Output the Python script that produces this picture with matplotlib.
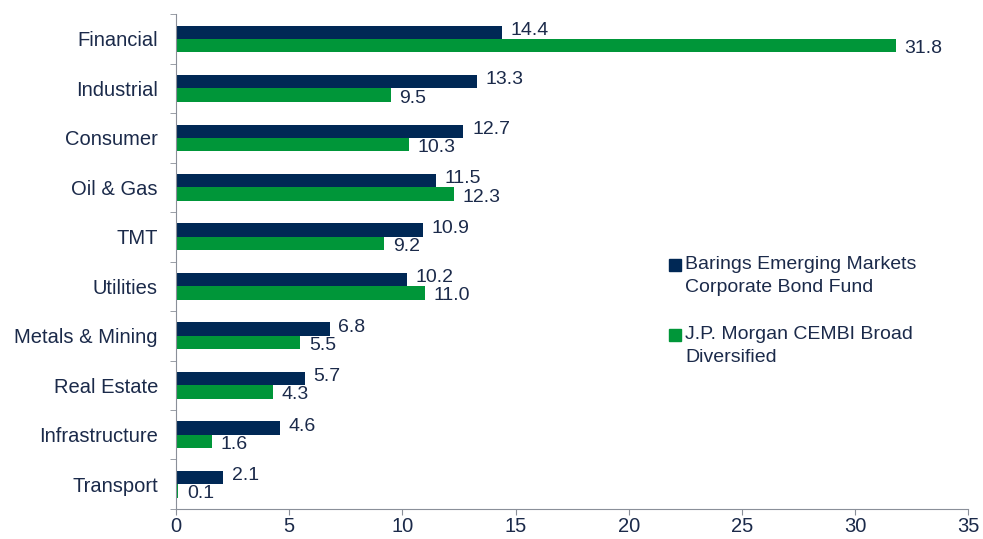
import matplotlib.pyplot as plt
from matplotlib.patches import Rectangle
import numpy as np

plt.rcParams['font.family'] = ['Liberation Sans', 'DejaVu Sans']

sectors = ['Financial', 'Industrial', 'Consumer', 'Oil & Gas', 'TMT', 'Utilities',
           'Metals & Mining', 'Real Estate', 'Infrastructure', 'Transport']
barings = [14.4, 13.3, 12.7, 11.5, 10.9, 10.2, 6.8, 5.7, 4.6, 2.1]
jpm = [31.8, 9.5, 10.3, 12.3, 9.2, 11.0, 5.5, 4.3, 1.6, 0.1]
series_names = [['Barings Emerging Markets', 'Corporate Bond Fund'],
                ['J.P. Morgan CEMBI Broad', 'Diversified']]

navy = '#002855'
green = '#009639'
text_col = '#1b2a4a'
axis_col = '#8a8f99'

fig = plt.figure(figsize=(9.83, 5.39), dpi=100)
ax = fig.add_axes([0.179, 0.0557, 0.806, 0.918])

y = np.arange(len(sectors))
h = 0.27
ax.barh(y - h / 2, barings, height=h, color=navy)
ax.barh(y + h / 2, jpm, height=h, color=green)

# value labels: navy ones sit a bit high, green ones a bit low
for i in range(len(sectors)):
    ax.text(barings[i] + 0.38, y[i] - h / 2 - 0.04, f'{barings[i]:.1f}', va='center', ha='left',
            fontsize=14, color=text_col)
    ax.text(jpm[i] + 0.38, y[i] + h / 2 + 0.06, f'{jpm[i]:.1f}', va='center', ha='left',
            fontsize=14, color=text_col)

ax.set_ylim(len(sectors) - 0.5, -0.5)
ax.set_xlim(0, 35)
ax.set_xticks(range(0, 36, 5))
ax.set_yticks(y)
ax.set_yticklabels(sectors)
ax.set_yticks(np.arange(-0.5, len(sectors), 1), minor=True)
ax.tick_params(axis='y', which='major', length=0, pad=13, labelsize=14.5, labelcolor=text_col)
ax.tick_params(axis='y', which='minor', length=4, color=axis_col, direction='out')
ax.tick_params(axis='x', length=4, color=axis_col, labelsize=14.5, labelcolor=text_col, pad=2)

for s in ['top', 'right']:
    ax.spines[s].set_visible(False)
for s in ['left', 'bottom']:
    ax.spines[s].set_color(axis_col)

# legend drawn by hand so the line spacing matches
leg_rows = [0.4848, 0.3434]
for col, lines, yb in zip([navy, green], series_names, leg_rows):
    ax.add_patch(Rectangle((0.6225, yb - 0.004), 0.0152, 0.0236, color=col,
                           transform=ax.transAxes, clip_on=False))
    ax.text(0.6425, yb, lines[0], va='baseline', ha='left', fontsize=14, color=text_col,
            transform=ax.transAxes)
    ax.text(0.6425, yb - 0.0464, lines[1], va='baseline', ha='left', fontsize=14, color=text_col,
            transform=ax.transAxes)

fig.savefig('out.png', dpi=100)
